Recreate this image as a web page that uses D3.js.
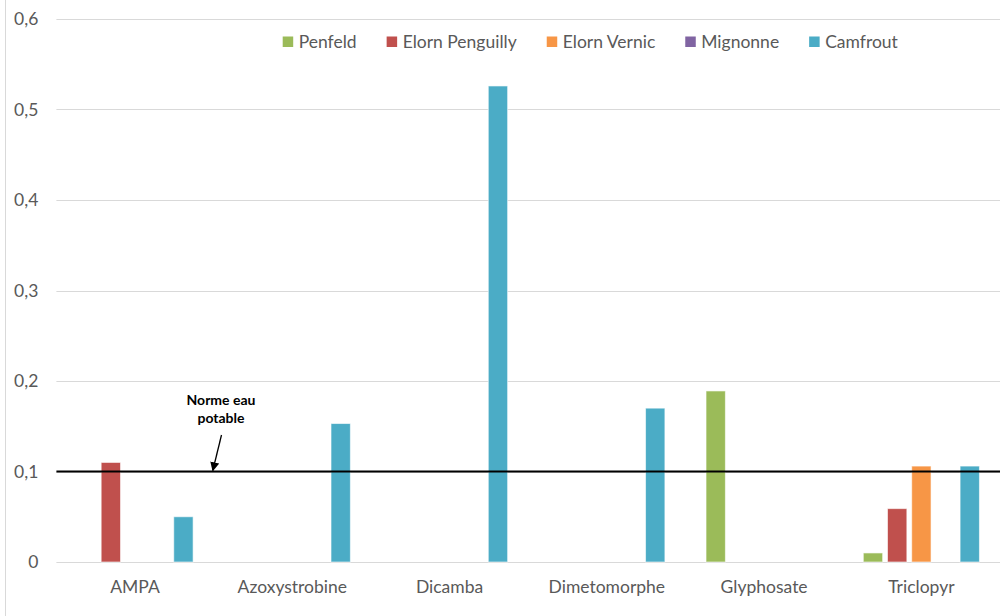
<!DOCTYPE html>
<html>
<head>
<meta charset="utf-8">
<script src="https://cdn.jsdelivr.net/npm/d3@7/dist/d3.min.js"></script>
<style>
  html, body { margin: 0; padding: 0; background: #fff; }
  svg { display: block; font-family: Lato, "Open Sans", sans-serif; }
</style>
</head>
<body>
<svg id="chart" width="1004" height="616"></svg>
<script>
// Pesticide concentrations (µg/L) by molecule and sampling site
const categories = ["AMPA", "Azoxystrobine", "Dicamba", "Dimetomorphe", "Glyphosate", "Triclopyr"];
const seriesNames = ["Penfeld", "Elorn Penguilly", "Elorn Vernic", "Mignonne", "Camfrout"];
const seriesColors = ["#9BBB59", "#C0504D", "#F79646", "#8064A2", "#4BACC6"];

// one array per site, aligned with categories (null = not detected)
const penfeld        = [null, null, null, null, 0.189, 0.01];
const elornPenguilly = [0.11, null, null, null, null, 0.059];
const elornVernic    = [null, null, null, null, null, 0.106];
const mignonne       = [null, null, null, null, null, null];
const camfrout       = [0.05, 0.153, 0.526, 0.17, null, 0.106];
const seriesValues = [penfeld, elornPenguilly, elornVernic, mignonne, camfrout];

const yTicks = [0, 0.1, 0.2, 0.3, 0.4, 0.5, 0.6];
const thresholdValue = 0.1;
const thresholdLabel = ["Norme eau", "potable"];

const svg = d3.select("#chart");
const W = 1004, H = 616;
const plot = { left: 56.4, right: 1000, top: 19, bottom: 562 };
const labelFont = 17.5;

// outer frame edge
svg.append("line")
  .attr("x1", 5.5).attr("x2", 5.5).attr("y1", 0).attr("y2", H)
  .attr("stroke", "#d9d9d9").attr("stroke-width", 1);

const x0 = d3.scaleBand().domain(categories).range([plot.left, plot.right]).padding(0);
const x1 = d3.scaleBand().domain(seriesNames).range([0, x0.bandwidth()])
  .paddingInner(0.2).paddingOuter(0.85);
const y = d3.scaleLinear().domain([0, 0.6]).range([plot.bottom, plot.top]);

const fmt = d => d3.format(".1~f")(d).replace(".", ",");

// gridlines
svg.append("g").selectAll("line").data(yTicks).join("line")
  .attr("x1", plot.left).attr("x2", plot.right)
  .attr("y1", d => Math.round(y(d)) + 0.5).attr("y2", d => Math.round(y(d)) + 0.5)
  .attr("stroke", "#d9d9d9").attr("stroke-width", 1);

// y axis labels
const yAxis = d3.axisLeft(y).tickValues(yTicks).tickFormat(fmt).tickSize(0).tickPadding(18);
const gy = svg.append("g").attr("transform", `translate(${plot.left},0)`).call(yAxis);
gy.select(".domain").remove();
gy.selectAll("text").attr("font-size", labelFont).attr("fill", "#595959")
  .attr("font-family", "Lato, 'Open Sans', sans-serif");

// x axis labels
const xAxis = d3.axisBottom(x0).tickSize(0).tickPadding(19);
const gx = svg.append("g").attr("transform", `translate(0,${plot.bottom})`).call(xAxis);
gx.select(".domain").remove();
gx.selectAll("text").attr("font-size", labelFont).attr("fill", "#595959")
  .attr("font-family", "Lato, 'Open Sans', sans-serif");

// bars
const barData = [];
categories.forEach((c, i) => {
  seriesNames.forEach((s, j) => {
    const v = seriesValues[j][i];
    if (v != null) barData.push({ c, s, v, color: seriesColors[j] });
  });
});
svg.append("g").selectAll("rect").data(barData).join("rect")
  .attr("x", d => x0(d.c) + x1(d.s))
  .attr("width", x1.bandwidth())
  .attr("y", d => y(d.v))
  .attr("height", d => y(0) - y(d.v))
  .attr("fill", d => d.color)
  .attr("stroke", "#ffffff").attr("stroke-opacity", 0.6).attr("stroke-width", 1);

// drinking-water limit
svg.append("line")
  .attr("x1", plot.left).attr("x2", plot.right)
  .attr("y1", y(thresholdValue)).attr("y2", y(thresholdValue))
  .attr("stroke", "#000").attr("stroke-width", 2);

const ann = svg.append("text").attr("text-anchor", "middle")
  .attr("font-size", 14).attr("font-weight", "bold").attr("fill", "#000")
  .attr("font-family", "Lato, 'Open Sans', sans-serif");
thresholdLabel.forEach((t, i) => {
  ann.append("tspan").attr("x", 221).attr("y", 405 + i * 18).text(t);
});

svg.append("defs").append("marker")
  .attr("id", "arrowhead").attr("viewBox", "0 0 10 10")
  .attr("refX", 9).attr("refY", 5).attr("markerWidth", 7).attr("markerHeight", 7)
  .attr("orient", "auto")
  .append("path").attr("d", "M0,0 L10,5 L0,10 Z").attr("fill", "#000");
svg.append("line")
  .attr("x1", 221.5).attr("y1", 435).attr("x2", 212.8).attr("y2", y(thresholdValue) - 1)
  .attr("stroke", "#000").attr("stroke-width", 1.3)
  .attr("marker-end", "url(#arrowhead)");

// legend
const legend = svg.append("g");
let lx = 282.7;
seriesNames.forEach((s, j) => {
  const g = legend.append("g");
  g.append("rect").attr("x", lx).attr("y", 36.5).attr("width", 10.5).attr("height", 10.5)
    .attr("fill", seriesColors[j]);
  const t = g.append("text").attr("x", lx + 16).attr("y", 48)
    .attr("font-size", labelFont).attr("fill", "#595959").text(s);
  lx += 16 + t.node().getComputedTextLength() + 30;
});
</script>
</body>
</html>
